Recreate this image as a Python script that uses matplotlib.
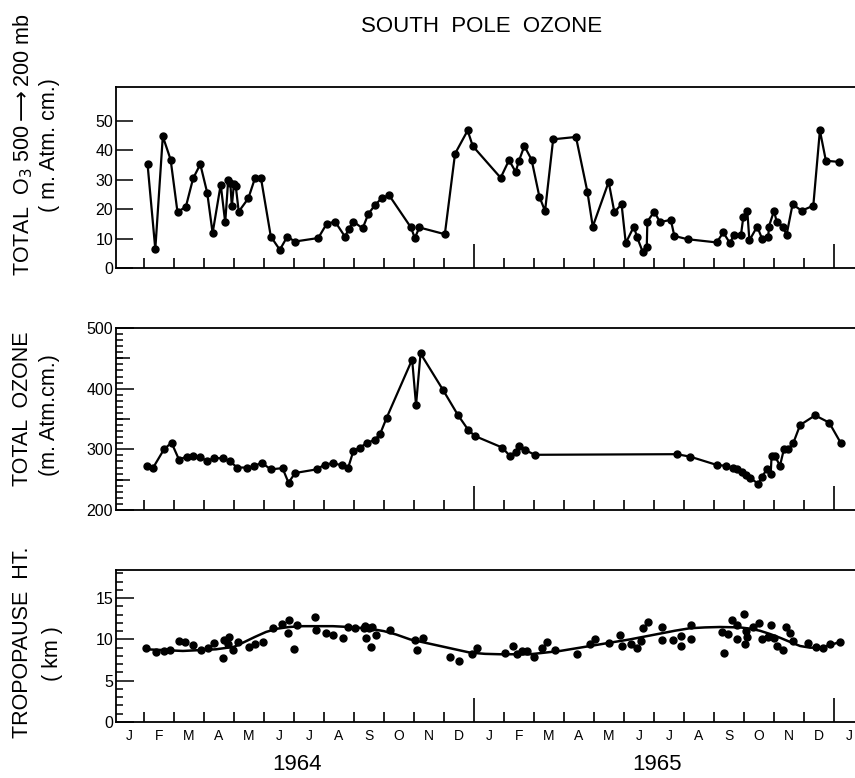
import matplotlib
matplotlib.use("Agg")
from matplotlib import pyplot as plt
import matplotlib.transforms as mtransforms

plt.rcParams['font.family'] = ['Liberation Sans', 'DejaVu Sans']

# time axis: months since 1 Jan 1964
o3_layer_t = [1.12, 1.38, 1.63, 1.89, 2.12, 2.40, 2.64, 2.88, 3.11, 3.29, 3.56, 3.71, 3.81, 3.88,
              3.93, 4.00, 4.06, 4.16, 4.48, 4.70, 4.90, 5.23, 5.53, 5.78, 6.03, 6.81, 7.09, 7.37,
              7.70, 7.83, 7.98, 8.29, 8.48, 8.70, 8.92, 9.17, 9.90, 10.03, 10.18, 11.03, 11.37,
              11.79, 11.96, 12.89, 13.17, 13.39, 13.50, 13.68, 13.92, 14.18, 14.37, 14.64, 15.40,
              15.78, 15.96, 16.49, 16.68, 16.92, 17.06, 17.33, 17.44, 17.62, 17.76, 17.78, 18.01,
              18.20, 18.56, 18.68, 19.12, 20.09, 20.31, 20.53, 20.67, 20.90, 20.98, 21.11, 21.18,
              21.44, 21.61, 21.81, 21.83, 22.00, 22.09, 22.29, 22.42, 22.62, 22.92, 23.31, 23.53,
              23.73, 24.18]
o3_layer = [35.5, 6.4, 44.8, 36.9, 19.0, 20.9, 30.5, 35.3, 25.6, 11.9, 28.4, 15.5, 30.0, 29.0,
            21.0, 28.5, 28.0, 19.2, 23.7, 30.5, 30.7, 10.7, 6.2, 10.7, 9.0, 10.2, 15.0, 15.8,
            10.7, 13.2, 15.8, 13.5, 18.4, 21.4, 23.7, 24.8, 13.8, 10.2, 13.8, 11.5, 38.9,
            46.8, 41.5, 30.7, 36.7, 32.7, 36.5, 41.5, 36.9, 24.3, 19.4, 43.8, 44.6,
            26.0, 14.1, 29.3, 19.0, 21.7, 8.5, 14.1, 10.4, 5.6, 7.3, 15.8, 19.2,
            15.6, 16.4, 10.9, 9.8, 8.7, 12.1, 8.5, 11.3, 11.3, 17.5, 19.5, 9.4,
            14.1, 9.8, 10.7, 14.1, 19.4, 15.8, 14.1, 11.3, 21.7, 19.5, 21.2, 46.8,
            36.5, 36.1]

total_t = [1.09, 1.31, 1.67, 1.92, 2.17, 2.42, 2.64, 2.87, 3.11, 3.33, 3.64, 3.87, 4.11, 4.42,
           4.67, 4.92, 5.23, 5.62, 5.82, 6.04, 6.76, 7.03, 7.29, 7.59, 7.81, 7.98, 8.20, 8.42,
           8.70, 8.87, 9.09, 9.94, 10.07, 10.22, 10.98, 11.46, 11.81, 12.03, 12.94, 13.20,
           13.39, 13.51, 13.70, 14.03, 18.76, 19.20, 20.11, 20.40, 20.64, 20.78, 20.92, 21.07,
           21.20, 21.48, 21.59, 21.76, 21.89, 21.92, 22.03, 22.20, 22.33, 22.48, 22.64, 22.87,
           23.37, 23.84, 24.22]
total_o3 = [272, 270, 300, 311, 283, 288, 289, 288, 280, 286, 285, 280, 270, 270,
            272, 278, 267, 269, 245, 261, 267, 275, 277, 274, 270, 297, 303, 310,
            316, 325, 352, 448, 373, 458, 397, 357, 332, 322, 303, 289,
            296, 306, 299, 291, 292, 288, 274, 273, 269, 267, 263, 258,
            253, 243, 254, 267, 259, 289, 289, 273, 300, 301, 310, 340,
            356, 344, 311]

trop_t = [1.07, 1.40, 1.66, 1.87, 2.16, 2.38, 2.62, 2.90, 3.12, 3.32, 3.62, 3.68, 3.84, 3.79,
          3.98, 4.13, 4.49, 4.71, 4.96, 5.29, 5.59, 5.84, 5.81, 6.01, 6.10, 6.71, 6.73, 7.07,
          7.29, 7.62, 7.81, 8.04, 8.34, 8.38, 8.51, 8.59, 8.40, 8.57, 8.72, 9.20, 10.03, 10.31,
          10.09, 11.20, 11.50, 11.92, 12.11, 13.03, 13.29, 13.44, 13.61, 13.78, 14.01, 14.26,
          14.44, 14.70, 15.42, 15.87, 16.03, 16.51, 16.87, 16.92, 17.22, 17.42, 17.56, 17.64,
          17.81, 18.26, 18.26, 18.64, 18.89, 18.89, 19.22, 19.22, 20.26, 20.34, 20.48, 20.61,
          20.76, 20.78, 21.01, 21.06, 21.03, 21.11, 21.31, 21.51, 21.59, 21.81, 21.90, 22.00,
          22.09, 22.29, 22.39, 22.53, 22.64, 23.12, 23.39, 23.64, 23.87, 24.20]
trop_ht = [9.0, 8.5, 8.6, 8.7, 9.8, 9.7, 9.3, 8.7, 8.9, 9.6, 7.8, 9.9, 10.35, 9.5,
           8.7, 9.7, 9.1, 9.5, 9.7, 11.4, 11.9, 12.4, 10.8, 8.8, 11.8, 12.7, 11.1, 10.8,
           10.5, 10.2, 11.5, 11.35, 11.35, 11.6, 11.4, 11.5, 10.2, 9.1, 10.5, 11.1, 9.9, 10.2,
           8.7, 7.9, 7.4, 8.2, 8.9, 8.3, 9.2, 8.2, 8.6, 8.6, 7.9, 9.0,
           9.7, 8.7, 8.2, 9.4, 10.0, 9.6, 10.5, 9.2, 9.5, 9.0, 9.8, 11.35,
           12.1, 11.5, 9.9, 9.9, 10.4, 9.2, 11.8, 10.0, 10.9, 8.4, 10.6, 12.3,
           11.8, 10.0, 13.1, 11.0, 9.4, 10.3, 11.5, 11.95, 10.1, 10.3, 11.7, 10.2,
           9.2, 8.7, 11.5, 10.8, 9.8, 9.6, 9.1, 9.0, 9.4, 9.7]

# smoothed seasonal curve
curve_t = [1.07, 2.30, 3.40, 4.00, 4.30, 4.70, 5.07, 5.45, 5.84, 6.30, 6.73, 7.30, 7.84, 8.20,
           8.60, 9.00, 9.40, 9.87, 10.37, 10.87, 11.37, 11.87, 12.37, 12.87, 13.87, 14.37,
           14.87, 15.37, 15.87, 16.53, 17.20, 17.70, 18.20, 18.70, 19.20, 19.70, 20.20, 20.87,
           21.20, 21.53, 21.87, 22.20, 22.53, 22.87, 23.20, 23.53, 23.87, 24.20]
curve_ht = [8.8, 8.6, 8.8, 9.1, 9.6, 10.3, 10.9, 11.3, 11.5, 11.6, 11.6, 11.6, 11.5, 11.4,
            11.25, 11.0, 10.6, 10.0, 9.6, 9.2, 8.8, 8.4, 8.25, 8.2, 8.2, 8.4,
            8.6, 8.9, 9.2, 9.6, 10.0, 10.35, 10.7, 11.05, 11.35, 11.45, 11.5, 11.45,
            11.3, 11.05, 10.65, 10.2, 9.7, 9.2, 9.0, 9.0, 9.3, 9.7]

month_labels = ["J", "F", "M", "A", "M", "J", "J", "A", "S", "O", "N", "D"] * 2 + ["J"]
year_labels = ["1964", "1965"]

W, H = 855, 778
fig = plt.figure(figsize=(W / 100, H / 100), dpi=100)


def make_axes(top_px, bottom_px):
    ax = fig.add_axes([116 / W, 1 - bottom_px / H, 1 - 116 / W, (bottom_px - top_px) / H])
    ax.spines['right'].set_visible(False)
    for s in ('left', 'top', 'bottom'):
        ax.spines[s].set_linewidth(1.3)
    ax.set_xlim(0.07, 24.7)
    ax.set_xticks([12, 24])
    ax.set_xticks([m for m in range(1, 24) if m != 12], minor=True)
    ax.tick_params(axis='x', which='major', direction='in', length=17, width=1.2, labelbottom=False)
    ax.tick_params(axis='x', which='minor', direction='in', length=7, width=1.2, labelbottom=False)
    ax.tick_params(axis='y', which='both', direction='in', width=1.1, labelsize=11.5, pad=2, right=False)
    return ax


# top: layer ozone
ax1 = make_axes(87, 268)
ax1.plot(o3_layer_t, o3_layer, color='black', lw=1.6, marker='o', ms=5)
ax1.set_ylim(0, 61.6)
ax1.set_yticks(range(0, 51, 10))
ax1.tick_params(axis='y', which='major', length=12)

# middle: total ozone
ax2 = make_axes(328, 510)
ax2.plot(total_t, total_o3, color='black', lw=1.6, marker='o', ms=5)
ax2.set_ylim(200, 500)
ax2.set_yticks([200, 300, 400, 500])
ax2.set_yticks([v for v in range(210, 500, 10) if v % 100], minor=True)
ax2.tick_params(axis='y', which='major', length=13)
ax2.tick_params(axis='y', which='minor', length=5)
# medium ticks at the half-hundreds
half = ax2.secondary_yaxis('left')
half.spines['left'].set_visible(False)
half.set_yticks([250, 350, 450])
half.tick_params(axis='y', direction='in', length=10, width=1.1, labelleft=False)
half.yaxis.set_minor_locator(plt.NullLocator())

# bottom: tropopause height
ax3 = make_axes(570, 722)
ax3.plot(curve_t, curve_ht, color='black', lw=1.8)
ax3.plot(trop_t, trop_ht, 'o', color='black', ms=5)
ax3.set_ylim(0, 18.4)
ax3.set_yticks([0, 5, 10, 15])
ax3.set_yticks([v for v in range(1, 19) if v % 5], minor=True)
ax3.tick_params(axis='y', which='major', length=13)
ax3.tick_params(axis='y', which='minor', length=5)

trans = mtransforms.blended_transform_factory(ax3.transData, ax3.transAxes)
for i, lab in enumerate(month_labels):
    ax3.text(i + 0.5, -0.045, lab, transform=trans, ha='center', va='top', fontsize=10)
for i, lab in enumerate(year_labels):
    ax3.text(6.1 + 12 * i, -0.21, lab, transform=trans, ha='center', va='top', fontsize=16)

# titles and axis labels
fig.text(482 / W, 1 - 27 / H, "SOUTH  POLE  OZONE", ha='center', va='center', fontsize=16)

fig.text(23 / W, 1 - 145 / H, r"TOTAL  O$_3$ 500$\longrightarrow$200 mb", rotation=90,
         ha='center', va='center', fontsize=15.5)
fig.text(49 / W, 1 - 145 / H, "( m. Atm. cm.)", rotation=90, ha='center', va='center', fontsize=15.5)
fig.text(23 / W, 1 - 409 / H, "TOTAL  OZONE", rotation=90, ha='center', va='center', fontsize=15.5)
fig.text(49 / W, 1 - 415 / H, "(m. Atm.cm.)", rotation=90, ha='center', va='center', fontsize=15.5)
fig.text(23 / W, 1 - 642 / H, "TROPOPAUSE  HT.", rotation=90, ha='center', va='center', fontsize=15.5)
fig.text(52 / W, 1 - 654 / H, "( km )", rotation=90, ha='center', va='center', fontsize=15.5)

fig.savefig("out.png", dpi=100)
